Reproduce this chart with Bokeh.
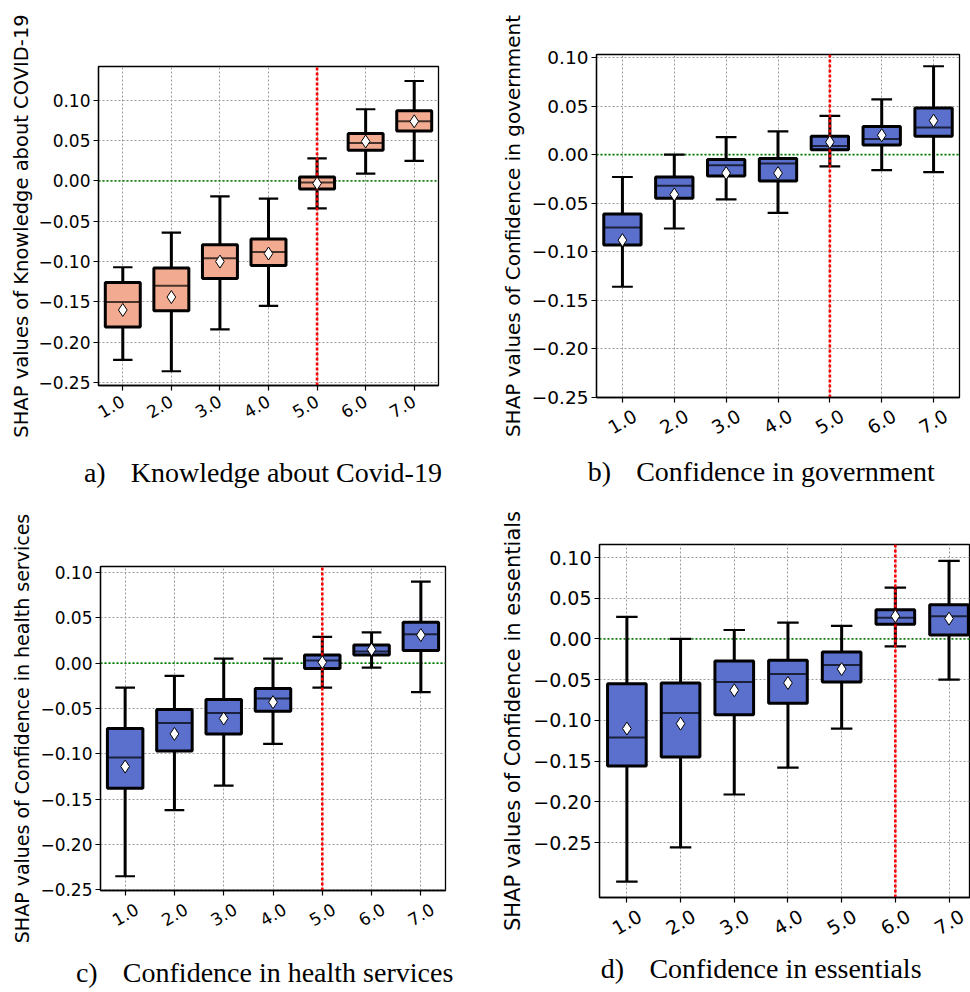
import math
from bokeh.plotting import figure
from bokeh.models import (FixedTicker, CustomJSTickFormatter, Range1d, LinearAxis)
from bokeh.embed import file_html
from bokeh.resources import INLINE

# ---------------- data ----------------
levels = [1.0, 2.0, 3.0, 4.0, 5.0, 6.0, 7.0]
level_labels = ["1.0", "2.0", "3.0", "4.0", "5.0", "6.0", "7.0"]
y_ticks = [-0.25, -0.20, -0.15, -0.10, -0.05, 0.00, 0.05, 0.10]

# a) Knowledge about Covid-19
a_q1 = [-0.181, -0.161, -0.121, -0.105, -0.010, 0.038, 0.062]
a_q3 = [-0.126, -0.108, -0.079, -0.072, 0.005, 0.059, 0.087]
a_med = [-0.150, -0.130, -0.096, -0.088, -0.002, 0.047, 0.074]
a_mean = [-0.160, -0.144, -0.100, -0.090, -0.003, 0.049, 0.074]
a_lo = [-0.222, -0.236, -0.184, -0.155, -0.034, 0.009, 0.025]
a_hi = [-0.107, -0.064, -0.019, -0.022, 0.028, 0.089, 0.124]
a_threshold = 5.0

# b) Confidence in government
b_q1 = [-0.093, -0.045, -0.022, -0.027, 0.005, 0.010, 0.019]
b_q3 = [-0.061, -0.023, -0.005, -0.004, 0.019, 0.029, 0.048]
b_med = [-0.075, -0.032, -0.011, -0.009, 0.009, 0.016, 0.028]
b_mean = [-0.088, -0.041, -0.019, -0.019, 0.013, 0.020, 0.035]
b_lo = [-0.136, -0.076, -0.046, -0.060, -0.012, -0.016, -0.018]
b_hi = [-0.023, 0.000, 0.018, 0.024, 0.040, 0.057, 0.091]
b_threshold = 5.0

# c) Confidence in health services
c_q1 = [-0.138, -0.097, -0.078, -0.053, -0.006, 0.009, 0.014]
c_q3 = [-0.072, -0.051, -0.040, -0.028, 0.009, 0.020, 0.045]
c_med = [-0.104, -0.066, -0.055, -0.039, 0.003, 0.013, 0.032]
c_mean = [-0.114, -0.078, -0.061, -0.043, 0.001, 0.015, 0.031]
c_lo = [-0.235, -0.162, -0.135, -0.089, -0.027, -0.005, -0.032]
c_hi = [-0.027, -0.014, 0.005, 0.005, 0.029, 0.034, 0.090]
c_threshold = 5.0

# d) Confidence in essentials
d_q1 = [-0.156, -0.145, -0.093, -0.079, -0.053, 0.018, 0.005]
d_q3 = [-0.055, -0.054, -0.027, -0.026, -0.016, 0.036, 0.042]
d_med = [-0.121, -0.091, -0.053, -0.043, -0.032, 0.026, 0.028]
d_mean = [-0.110, -0.104, -0.063, -0.054, -0.037, 0.028, 0.025]
d_lo = [-0.298, -0.256, -0.191, -0.158, -0.110, -0.009, -0.050]
d_hi = [0.027, 0.000, 0.011, 0.020, 0.016, 0.063, 0.096]
d_threshold = 6.0

baseline_value = 0.0

SALMON = "#F2AB91"
BLUE = "#5A70CC"
GAP = "\u2002\u2009\u2009"


def y_formatter():
    return CustomJSTickFormatter(code="""
const s = Math.abs(tick).toFixed(2);
return (tick < -1e-9 ? '\u2212' : '') + s;
""")


def style_axis(ax, fs):
    ax.major_label_text_font = "DejaVu Sans"
    ax.major_label_text_font_size = fs
    ax.major_label_text_color = "black"
    ax.minor_tick_line_color = None
    ax.major_tick_out = 5
    ax.major_tick_in = 0
    ax.major_tick_line_width = 1.2
    ax.major_tick_line_color = "black"
    ax.axis_line_color = "black"
    ax.axis_line_width = 1.3
    ax.major_label_standoff = 3


def make_panel(q1, q3, med, mean, lo, hi, threshold, color, ylabel, caption,
               W, H, mb, xr, yr, tick_fs, label_fs, label_shift_px,
               cap_standoff, ylab_standoff):
    left, right, top, bottom = mb
    p = figure(width=W, height=H, x_range=Range1d(*xr), y_range=Range1d(*yr),
               output_backend="svg", toolbar_location=None, title=None,
               min_border_left=left, min_border_right=right,
               min_border_top=top, min_border_bottom=bottom)
    p.background_fill_color = "white"
    p.border_fill_color = "white"
    p.outline_line_color = "black"
    p.outline_line_width = 1.3

    xt = FixedTicker(ticks=levels)
    yt = FixedTicker(ticks=y_ticks)
    xa = p.xaxis[0]
    ya = p.yaxis[0]
    xa.ticker = xt
    ya.ticker = yt
    p.xgrid.ticker = xt
    p.ygrid.ticker = yt
    ya.formatter = y_formatter()
    style_axis(xa, tick_fs)
    style_axis(ya, tick_fs)
    ya.axis_label = ylabel
    ya.axis_label_text_font = "DejaVu Sans"
    ya.axis_label_text_font_size = label_fs
    ya.axis_label_text_font_style = "normal"
    ya.axis_label_text_color = "black"
    ya.axis_label_standoff = ylab_standoff

    lab_fmt_code = ("const i = levels.findIndex(v => Math.abs(v + d - tick) < 1e-6);"
                    " return i >= 0 ? labels[i] : '';")
    if label_shift_px == 0:
        xa.formatter = CustomJSTickFormatter(
            args=dict(levels=levels, labels=level_labels, d=0.0), code=lab_fmt_code)
        xa.major_label_orientation = math.pi / 6
        xa.major_label_standoff = 9
        cap_axis = xa
    else:
        # tick marks on the frame axis (no labels drawn),
        # centred rotated labels on a second axis just below it
        frame_w = W - left - right
        d = label_shift_px * (xr[1] - xr[0]) / frame_w
        xa.major_label_text_font_size = "1px"
        xa.major_label_text_color = None
        xa.major_label_standoff = 0
        ax2 = LinearAxis(ticker=FixedTicker(ticks=[v + d for v in levels]),
                         formatter=CustomJSTickFormatter(
                             args=dict(levels=levels, labels=level_labels, d=d),
                             code=lab_fmt_code))
        style_axis(ax2, tick_fs)
        ax2.axis_line_color = None
        ax2.major_tick_line_color = None
        ax2.major_tick_out = 0
        ax2.major_label_standoff = 12
        ax2.major_label_orientation = math.pi / 6
        p.add_layout(ax2, "below")
        cap_axis = ax2

    # sub-figure caption
    cap_axis.axis_label = caption
    cap_axis.axis_label_text_font = "Liberation Serif"
    cap_axis.axis_label_text_font_size = "28px"
    cap_axis.axis_label_text_font_style = "normal"
    cap_axis.axis_label_text_color = "black"
    cap_axis.axis_label_standoff = cap_standoff

    for g in (p.xgrid, p.ygrid):
        g.grid_line_color = "#9a9a9a"
        g.grid_line_dash = "2 2"
        g.grid_line_width = 1

    bw = 0.72
    cw = 0.40
    x = levels
    p.segment(x0=[xr[0]], y0=[baseline_value], x1=[xr[1]], y1=[baseline_value],
              line_color="#008000", line_width=1.6, line_dash="2 2")
    p.segment(x0=x, y0=q3, x1=x, y1=hi, line_color="black", line_width=3)
    p.segment(x0=x, y0=q1, x1=x, y1=lo, line_color="black", line_width=3)
    p.segment(x0=[v - cw / 2 for v in x], y0=hi, x1=[v + cw / 2 for v in x], y1=hi,
              line_color="black", line_width=2.2)
    p.segment(x0=[v - cw / 2 for v in x], y0=lo, x1=[v + cw / 2 for v in x], y1=lo,
              line_color="black", line_width=2.2)
    p.vbar(x=x, width=bw, bottom=q1, top=q3, fill_color=color,
           line_color="black", line_width=3)
    p.segment(x0=[v - bw / 2 for v in x], y0=med, x1=[v + bw / 2 for v in x], y1=med,
              line_color="black", line_alpha=0.7, line_width=2)
    p.segment(x0=[threshold], y0=[yr[0]], x1=[threshold], y1=[yr[1]],
              line_color="red", line_width=2.6, line_dash="3 2")
    p.scatter(x=x, y=mean, marker="diamond", size=13, fill_color="white",
              line_color="black", line_width=1)
    return p


# captions (trailing spaces shift the centred caption left, as in the original)
cap_a = "a)" + GAP + "Knowledge about Covid-19" + "\u2009\u2009"
cap_b = "b)" + GAP + "Confidence in government" + "\u2003\u2009"
cap_c = "c)" + GAP + "Confidence in health services" + "\u2009\u2009\u2009"
cap_d = "d)" + GAP + "Confidence in essentials" + "\u2003\u2002\u2009"

pa = make_panel(a_q1, a_q3, a_med, a_mean, a_lo, a_hi, a_threshold, SALMON,
                "SHAP values of Knowledge about COVID-19", cap_a,
                485, 495, (98, 47, 66, 110), (0.5, 7.5), (-0.2537, 0.142),
                "17px", "19.5px", 0, 30, 2)
pb = make_panel(b_q1, b_q3, b_med, b_mean, b_lo, b_hi, b_threshold, BLUE,
                "SHAP values of Confidence in government", cap_b,
                485, 495, (111, 11, 54, 98), (0.5, 7.5), (-0.25, 0.1031),
                "18.5px", "20px", 12.7, 13, 4)
pc = make_panel(c_q1, c_q3, c_med, c_mean, c_lo, c_hi, c_threshold, BLUE,
                "SHAP values of Confidence in health services", cap_c,
                485, 497, (100, 40, 71, 102), (0.5, 7.5), (-0.2507, 0.1066),
                "17px", "19px", 11.7, 22, 4)
pd_ = make_panel(d_q1, d_q3, d_med, d_mean, d_lo, d_hi, d_threshold, BLUE,
                 "SHAP values of Confidence in essentials", cap_d,
                 485, 497, (114, 0, 49, 95), (0.49, 7.40), (-0.3175, 0.116),
                 "19px", "21px", 13.1, 8, 5)

panel_pos = [[0, 0], [485, 0], [0, 495], [485, 495]]

PAGE = """{% block contents %}
{% from macros import embed %}
{% for doc in docs %}{% for root in doc.roots %}
<div style="position:absolute;left:{{ panel_pos[loop.index0][0] }}px;top:{{ panel_pos[loop.index0][1] }}px;">{{ embed(root) }}</div>
{% endfor %}{% endfor %}
{% endblock %}"""

html = file_html([pa, pb, pc, pd_], INLINE, template=PAGE,
                 template_variables={"panel_pos": panel_pos})
open("out.html", "w").write(html)
